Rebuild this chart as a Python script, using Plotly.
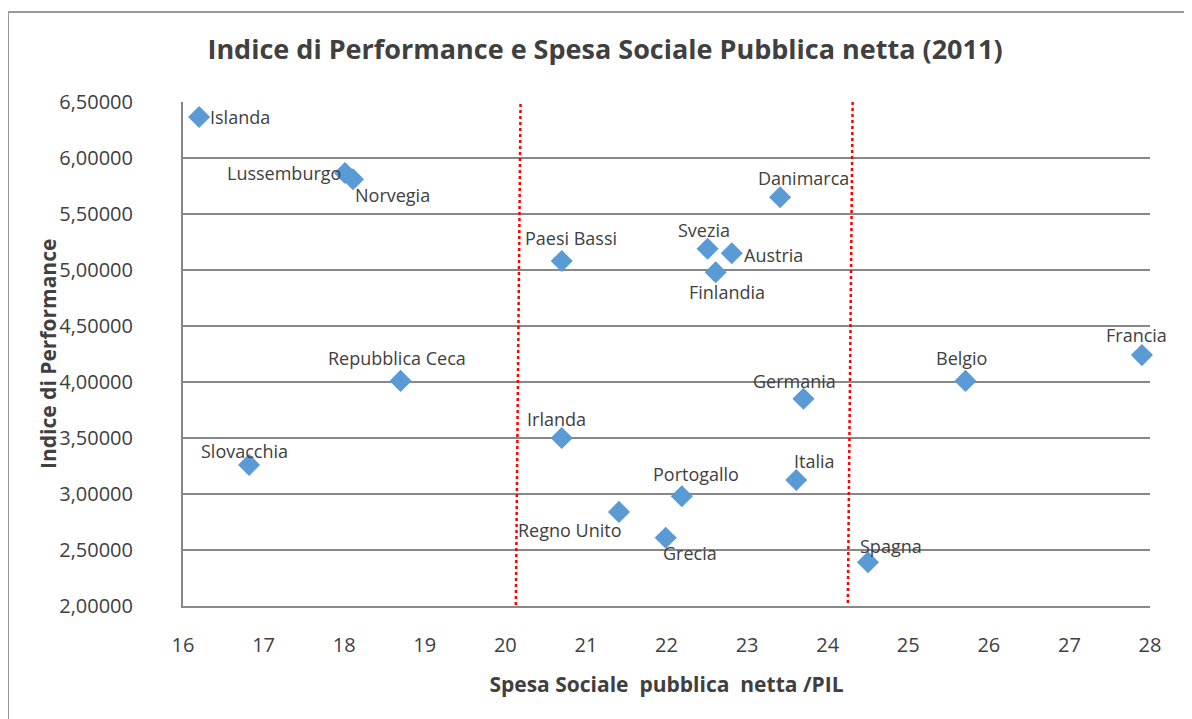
import plotly.graph_objects as go

paesi = ["Islanda", "Lussemburgo", "Norvegia", "Danimarca", "Paesi Bassi", "Svezia",
         "Austria", "Finlandia", "Francia", "Belgio", "Repubblica Ceca", "Germania",
         "Irlanda", "Slovacchia", "Italia", "Portogallo", "Regno Unito", "Grecia", "Spagna"]
spesa = [16.20, 18.01, 18.11, 23.41, 20.70, 22.51, 22.81, 22.61, 27.90, 25.71, 18.70, 23.70,
         20.70, 16.82, 23.61, 22.19, 21.41, 21.99, 24.50]
indice = [6.366, 5.866, 5.81, 5.65, 5.08, 5.19, 5.15, 4.98, 4.24, 4.01, 4.01, 3.85,
          3.50, 3.26, 3.125, 2.98, 2.84, 2.61, 2.39]

# label placement (style): anchor, x offset px, y offset px (down positive)
label_anchor = ["left", "right", "left", "center", "center", "center",
                "left", "center", "center", "center", "center", "center",
                "center", "center", "center", "center", "right", "center", "center"]
label_dx = [9, -2, 0, 23, 9, -4, 10, 11, -5, -4, -4, -9, -5, -5, 18, 14, 4, 24, 23]
label_dy = [0, 0, 16, -19, -23, -19, 2, 20, -20, -23, -23, -18, -19, -14, -19, -22, 18, 15, -16]

# soglie (linee rosse tratteggiate)
soglia1_x = [20.19, 20.13]
soglia1_y = [6.59, 2.0]
soglia2_x = [24.31, 24.25]
soglia2_y = [6.5, 2.0]

y_ticks = [2.0, 2.5, 3.0, 3.5, 4.0, 4.5, 5.0, 5.5, 6.0, 6.5]
x_ticks = list(range(16, 29))

FONT = "Open Sans"
TXT = "#404040"

# page body adds 8px offset; compensate in margins
L, T = 175, 94
PW, PH = 967, 504

fig = go.Figure()
fig.add_trace(go.Scatter(
    x=spesa, y=indice, mode="markers", text=paesi,
    marker=dict(symbol="diamond", size=17, color="#5B9BD5"),
    cliponaxis=False, showlegend=False,
))
for sx, sy in [(soglia1_x, soglia1_y), (soglia2_x, soglia2_y)]:
    fig.add_trace(go.Scatter(x=sx, y=sy, mode="lines", line=dict(color="#FF0000", width=2.5, dash="dot"),
                             showlegend=False, hoverinfo="skip", cliponaxis=False))

annotations = []
for name, xv, yv, anc, dx, dy in zip(paesi, spesa, indice, label_anchor, label_dx, label_dy):
    annotations.append(dict(x=xv, y=yv, xref="x", yref="y", text=name, showarrow=False,
                            xanchor=anc, yanchor="middle", xshift=dx, yshift=-dy,
                            font=dict(family=FONT, size=18, color=TXT)))
annotations.append(dict(x=(40 - L) / PW, y=0.5, xref="paper", yref="paper",
                        text="<b>Indice di Performance</b>", textangle=-90, showarrow=False,
                        xanchor="center", yanchor="middle",
                        font=dict(family=FONT, size=21, color=TXT)))

fig.update_layout(
    width=1192, height=719,
    margin=dict(l=L, r=1192 - L - PW, t=T, b=719 - T - PH),
    paper_bgcolor="white", plot_bgcolor="white",
    separators=",.",
    title=dict(text="<b>Indice di Performance e Spesa Sociale Pubblica netta (2011)</b>",
               x=597 / 1192, xanchor="center", y=1 - 42 / 719, yanchor="middle",
               font=dict(family=FONT, size=27, color=TXT)),
    font=dict(family=FONT, color=TXT),
    xaxis=dict(range=[16, 28], tickvals=x_ticks, showgrid=False, zeroline=False,
               showline=True, linecolor="#888888", linewidth=2, ticks="",
               ticklabelstandoff=20,
               tickfont=dict(family=FONT, size=20, color=TXT),
               title=dict(text="<b>Spesa Sociale  pubblica  netta /PIL</b>", standoff=20,
                          font=dict(family=FONT, size=21, color=TXT))),
    yaxis=dict(range=[2.0, 6.5], tickvals=y_ticks, tickformat=".5f", showgrid=True,
               gridcolor="#888888", gridwidth=2, zeroline=False,
               showline=True, linecolor="#888888", linewidth=2, ticks="",
               ticklabelstandoff=44,
               tickfont=dict(family=FONT, size=20, color=TXT)),
    annotations=annotations,
    shapes=[dict(type="rect", xref="paper", yref="paper",
                 x0=-L / PW, x1=1.2, y0=-0.5, y1=1 + (T - 4) / PH,
                 line=dict(color="#999999", width=2), fillcolor="rgba(0,0,0,0)", layer="below")],
)
fig.write_html("out.html")
